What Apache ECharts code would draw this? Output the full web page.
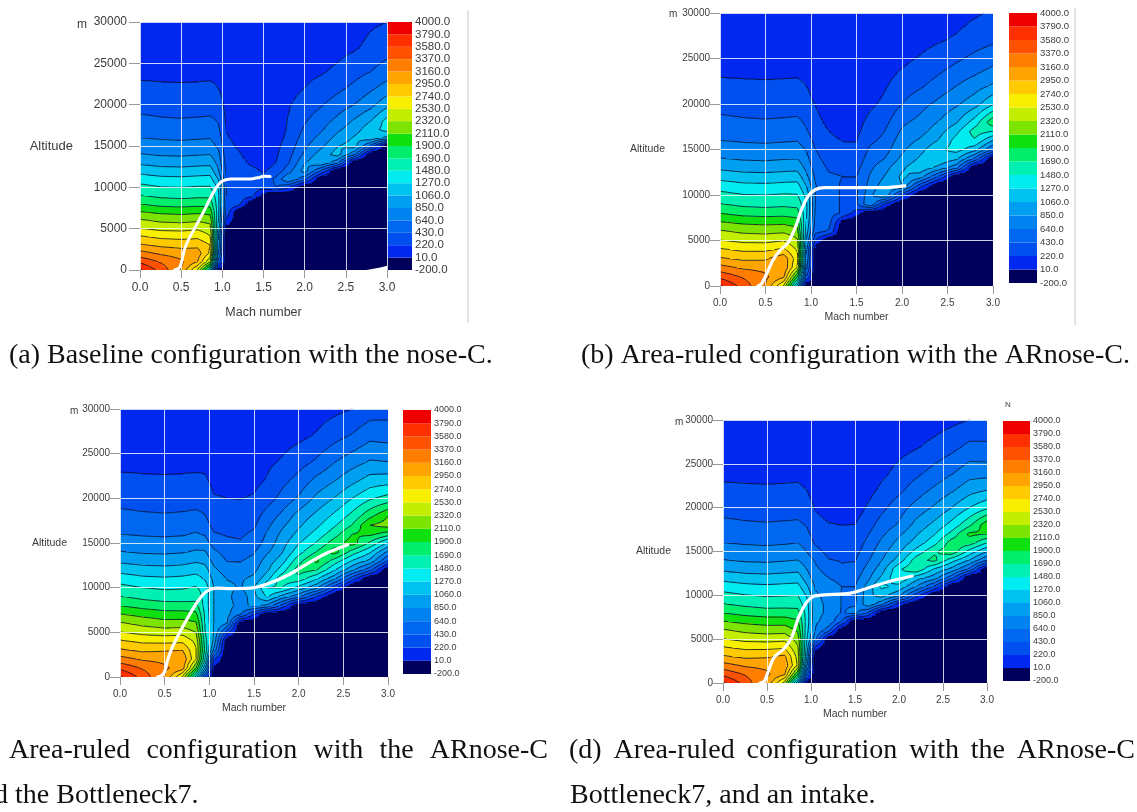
<!DOCTYPE html>
<html><head><meta charset="utf-8">
<style>html,body{margin:0;padding:0;background:#fff;overflow:hidden}#c{width:1137px;height:812px;filter:blur(.45px)}</style>
<script src="https://cdn.jsdelivr.net/npm/echarts@6/dist/echarts.min.js"></script>
</head><body><div id="c"></div>
<script>
const machGrid=[0,.25,.5,.7,.85,.95,1.05,1.2,1.35,1.5,1.65,1.8,2,2.2,2.4,2.6,2.8,3];
const altGrid=[0,1000,2000,3000,4000,5000,6000,7000,8000,9000,10000,11000,12000,13000,14000,15000,16000,17000,18000,20000,22000,24000,27000,30000];
const levels=[-200,10,220,430,640,850,1060,1270,1480,1690,1900,2110,2320,2530,2740,2950,3160,3370,3580,3790,4000];
const bandColors=['#00005c','#0028ee','#0050f0','#0068f0','#0082f0','#009ef0','#00c2f0','#00ecf0','#00f0b4','#00ee6c','#10e010','#7ce400','#c4ee00','#f8ee00','#ffca00','#ffa400','#ff7e00','#ff5200','#ff3000','#ee0000'];
const thrustA=[
[3830,3500,3150,2500,1500,-100,-200,-200,-200,-200,-200,-200,-200,-200,-200,-200,-200,-200],
[3530,3350,3200,2950,2350,600,-200,-200,-200,-200,-200,-200,-200,-200,-200,-200,-200,-200],
[3245,3130,3060,3050,2700,900,-200,-200,-200,-200,-200,-200,-200,-200,-200,-200,-200,-200],
[2980,2910,2880,2900,2750,1000,-200,-200,-200,-200,-200,-200,-200,-200,-200,-200,-200,-200],
[2770,2700,2680,2700,2550,1100,-200,-200,-200,-200,-200,-200,-200,-200,-200,-200,-200,-200],
[2540,2480,2470,2500,2420,1200,-50,-200,-200,-200,-200,-200,-200,-200,-200,-200,-200,-200],
[2350,2280,2260,2290,2250,1300,200,-200,-200,-200,-200,-200,-200,-200,-200,-200,-200,-200],
[2125,2070,2050,2070,2040,1350,350,-200,-200,-200,-200,-200,-200,-200,-200,-200,-200,-200],
[1897,1830,1810,1830,1820,1350,400,300,-200,-200,-200,-200,-200,-200,-200,-200,-200,-200],
[1700,1640,1620,1640,1640,1350,430,340,300,-100,-200,-200,-200,-200,-200,-200,-200,-200],
[1550,1490,1480,1500,1500,1250,430,340,330,300,430,250,-200,-200,-200,-200,-200,-200],
[1380,1330,1320,1340,1350,1050,420,320,310,270,480,850,500,-200,-200,-200,-200,-200],
[1200,1150,1140,1160,1170,880,380,300,270,200,280,540,950,400,-200,-200,-200,-200],
[1015,975,965,985,995,780,340,280,190,140,220,400,830,1060,700,-200,-200,-200],
[860,825,815,835,845,700,310,240,140,110,190,350,680,950,1150,700,-200,-200],
[750,715,705,725,735,600,280,190,110,90,170,300,600,800,1050,1150,600,-200],
[640,620,610,620,630,530,240,160,100,85,150,260,530,700,920,1080,1220,1000],
[560,535,525,535,545,470,210,130,90,80,130,240,460,610,810,970,1180,1350],
[484,460,450,460,470,420,190,110,85,80,120,230,410,550,700,880,1060,1350],
[360,345,335,340,345,340,150,90,80,80,100,200,310,410,530,640,780,1000],
[265,255,250,255,260,220,110,80,80,80,90,150,220,290,380,480,600,730],
[170,165,160,165,170,170,90,80,80,80,80,100,170,200,260,350,430,530],
[100,100,100,100,100,110,80,80,80,80,80,80,100,120,150,190,270,330],
[80,80,80,80,80,80,80,80,80,80,80,80,80,90,100,130,190,220]];
const thrustB=[
[3830,3500,3150,2500,1200,-150,-200,-200,-200,-200,-200,-200,-200,-200,-200,-200,-200,-200],
[3530,3350,3200,2980,1900,400,-200,-200,-200,-200,-200,-200,-200,-200,-200,-200,-200,-200],
[3245,3130,3100,3120,2500,700,-200,-200,-200,-200,-200,-200,-200,-200,-200,-200,-200,-200],
[2980,2910,2920,3100,2600,800,-200,-200,-200,-200,-200,-200,-200,-200,-200,-200,-200,-200],
[2770,2700,2700,2780,2500,900,-200,-200,-200,-200,-200,-200,-200,-200,-200,-200,-200,-200],
[2540,2480,2470,2520,2350,1050,200,-200,-200,-200,-200,-200,-200,-200,-200,-200,-200,-200],
[2350,2280,2260,2280,2200,1150,500,400,-200,-200,-200,-200,-200,-200,-200,-200,-200,-200],
[2125,2070,2050,2060,2000,1250,560,500,-100,-200,-200,-200,-200,-200,-200,-200,-200,-200],
[1897,1830,1810,1820,1790,1300,600,520,400,100,-200,-200,-200,-200,-200,-200,-200,-200],
[1700,1640,1620,1640,1620,1300,620,520,400,400,850,200,-200,-200,-200,-200,-200,-200],
[1550,1490,1480,1500,1490,1200,620,520,400,400,800,1060,300,-200,-200,-200,-200,-200],
[1380,1330,1320,1340,1350,1050,650,520,400,410,720,950,1050,300,-200,-200,-200,-200],
[1200,1150,1140,1160,1170,900,600,460,430,430,660,850,1100,950,400,-200,-200,-200],
[1015,975,965,985,995,790,530,400,380,370,600,760,1030,1200,1000,700,-200,-200],
[860,825,815,835,845,700,480,350,320,300,530,630,900,1090,1250,1100,600,-200],
[750,715,705,725,735,620,430,300,250,240,470,540,810,1000,1220,1350,1150,640],
[640,620,610,620,630,530,370,260,215,215,380,480,740,880,1070,1350,1450,1060],
[560,535,525,535,545,450,320,220,160,180,320,420,670,770,970,1220,1580,1480],
[484,460,450,460,470,400,280,170,130,150,280,360,600,700,860,1040,1370,1850],
[360,345,335,340,345,300,210,110,90,100,180,260,430,570,690,820,970,1250],
[265,255,250,255,260,220,130,85,80,80,120,190,320,400,520,640,760,880],
[170,165,160,165,170,150,90,80,80,80,90,140,215,270,370,470,550,660],
[100,100,100,100,100,100,80,80,80,80,80,100,130,160,200,250,340,390],
[80,80,80,80,80,80,80,80,80,80,80,80,90,100,110,130,190,250]];
const thrustC=[
[3830,3500,3150,2500,1400,400,-200,-200,-200,-200,-200,-200,-200,-200,-200,-200,-200,-200],
[3530,3350,3200,3050,2100,1100,-50,-200,-200,-200,-200,-200,-200,-200,-200,-200,-200,-200],
[3245,3130,3100,3120,2550,1500,250,-200,-200,-200,-200,-200,-200,-200,-200,-200,-200,-200],
[2980,2910,2930,2950,2550,1650,800,-200,-200,-200,-200,-200,-200,-200,-200,-200,-200,-200],
[2770,2700,2690,2700,2480,1600,1000,-200,-200,-200,-200,-200,-200,-200,-200,-200,-200,-200],
[2540,2470,2430,2450,2320,1500,1050,300,-200,-200,-200,-200,-200,-200,-200,-200,-200,-200],
[2350,2260,2200,2210,2140,1480,1060,850,-200,-200,-200,-200,-200,-200,-200,-200,-200,-200],
[2125,2050,1990,1990,1960,1450,1060,900,650,200,-200,-200,-200,-200,-200,-200,-200,-200],
[1897,1820,1780,1770,1760,1400,1060,920,780,900,800,400,-200,-200,-200,-200,-200,-200],
[1700,1630,1580,1590,1610,1400,1060,920,700,1000,1300,1000,700,200,-200,-200,-200,-200],
[1550,1480,1450,1460,1500,1400,1060,900,830,1060,1480,1500,1200,900,300,-200,-200,-200],
[1380,1320,1300,1320,1350,1250,1000,840,820,900,1200,1600,1600,1300,900,300,-200,-200],
[1200,1150,1130,1150,1200,1150,900,740,720,800,1020,1350,1800,1700,1300,900,500,-200],
[1015,975,965,985,1030,1000,780,630,630,710,950,1150,1620,1950,1600,1250,1000,400],
[860,825,815,835,875,870,680,560,540,620,820,1020,1400,1700,2000,1600,1300,800],
[750,715,705,725,765,730,560,480,450,540,720,950,1250,1500,1800,2000,1650,1250],
[640,620,610,620,660,620,450,410,400,470,670,880,1120,1350,1600,1900,1950,1800],
[560,535,525,535,565,520,360,360,340,400,590,790,1020,1220,1450,1700,2110,2200],
[484,460,450,460,480,440,310,310,300,350,520,680,940,1120,1320,1550,1850,2110],
[360,345,335,340,345,340,235,220,215,240,340,480,670,900,1070,1270,1450,1560],
[265,255,250,255,260,250,170,160,150,170,235,360,500,700,840,1000,1150,1180],
[170,165,160,165,170,170,120,120,110,120,185,240,350,470,640,770,880,860],
[100,100,100,100,100,100,90,90,85,90,110,130,170,240,350,450,580,560],
[80,80,80,80,80,80,80,80,80,80,80,90,100,120,170,220,320,340]];
const thrustD=[
[3830,3500,3100,2450,1100,-100,-200,-200,-200,-200,-200,-200,-200,-200,-200,-200,-200,-200],
[3530,3350,3200,2980,1900,500,-200,-200,-200,-200,-200,-200,-200,-200,-200,-200,-200,-200],
[3245,3130,3100,3100,2500,900,-200,-200,-200,-200,-200,-200,-200,-200,-200,-200,-200,-200],
[2980,2910,2930,3000,2450,1100,-200,-200,-200,-200,-200,-200,-200,-200,-200,-200,-200,-200],
[2770,2700,2700,2720,2350,1200,100,-200,-200,-200,-200,-200,-200,-200,-200,-200,-200,-200],
[2540,2470,2450,2470,2230,1300,700,-200,-200,-200,-200,-200,-200,-200,-200,-200,-200,-200],
[2350,2270,2230,2240,2080,1350,850,500,-200,-200,-200,-200,-200,-200,-200,-200,-200,-200],
[2125,2060,2020,2020,1930,1400,870,800,400,-200,-200,-200,-200,-200,-200,-200,-200,-200],
[1897,1830,1790,1790,1770,1400,880,830,620,700,400,-200,-200,-200,-200,-200,-200,-200],
[1700,1640,1600,1610,1610,1350,880,830,630,620,1000,700,100,-200,-200,-200,-200,-200],
[1550,1490,1460,1470,1480,1250,880,800,630,600,1000,1150,900,300,-200,-200,-200,-200],
[1380,1330,1310,1330,1340,1100,830,720,640,640,930,1320,1200,850,400,-200,-200,-200],
[1200,1150,1130,1150,1170,950,750,640,580,570,800,1100,1450,1150,950,500,-200,-200],
[1015,975,965,985,1005,850,680,550,450,480,720,950,1450,1650,1250,1000,600,-200],
[860,825,815,835,855,750,620,440,420,420,620,840,1150,1600,1750,1350,1050,640],
[750,715,705,725,735,640,500,370,350,360,550,760,1020,1350,1650,1850,1400,1060],
[640,620,610,620,640,560,400,310,280,300,490,680,920,1150,1400,1800,1800,1480],
[560,535,525,535,545,480,340,270,240,260,420,590,810,1040,1250,1550,1950,1900],
[484,460,450,460,470,420,290,235,220,225,350,520,670,930,1120,1350,1650,2050],
[360,345,335,340,345,310,205,130,110,120,245,370,550,720,880,1060,1270,1440],
[265,255,250,255,260,220,130,85,80,80,160,260,380,540,680,820,980,1060],
[170,165,160,165,170,150,90,80,80,80,100,170,280,380,500,620,760,760],
[100,100,100,100,100,100,80,80,80,80,80,100,150,200,270,360,480,460],
[80,80,80,80,80,80,80,80,80,80,80,80,90,110,130,170,220,300]];
const flightA=[[.42,0],[.47,200],[.5,800],[.54,2500],[.58,3500],[.65,4800],[.77,7000],[.88,9200],[.95,10300],[1.01,10800],[1.1,11000],[1.33,11000],[1.45,11200],[1.5,11350],[1.58,11300]];
const flightB=[[.42,0],[.46,300],[.52,1500],[.58,2800],[.65,3800],[.75,4800],[.83,6500],[.9,8500],[.97,9900],[1.05,10600],[1.15,10800],[1.5,10800],[1.8,10800],[2.03,11000]];
const flightC=[[.42,0],[.46,100],[.5,600],[.53,1800],[.58,3200],[.68,5200],[.78,7000],[.88,8600],[.97,9600],[1.08,9950],[1.25,9900],[1.5,10000],[1.7,10600],[1.9,11500],[2.1,12700],[2.3,13800],[2.55,14800]];
const flightD=[[.42,0],[.47,200],[.52,1500],[.58,2900],[.7,4000],[.78,5200],[.86,7500],[.95,9200],[1.03,9900],[1.15,10050],[1.45,10250],[1.7,11000],[1.9,11600],[2.15,12200]];
const whiteCornerA=[[2.75,0],[2.92,300],[3,500],[3,0]];
const panels=[
{v:thrustA,f:flightA,g:[140,22,247,248],b:[387,22,25,248],fs:12,bfs:11.5,nfs:12.5,afs:13,tick:11,lab:13,altGap:67,nameGap:36},
{v:thrustB,f:flightB,g:[720,13,273,273],b:[1009,13,28,270],fs:10,bfs:9.5,nfs:10.5,afs:10.5,tick:10,lab:10,altGap:55,nameGap:26},
{v:thrustC,f:flightC,g:[120,409,268,268],b:[403,410,28,264],fs:10,bfs:9,nfs:10.5,afs:10.5,tick:10,lab:10,altGap:53,nameGap:26},
{v:thrustD,f:flightD,g:[723,420,264,263],b:[1003,421,27,260],fs:10,bfs:9,nfs:10.5,afs:10.5,tick:10,lab:10,altGap:52,nameGap:26}];
const FONT='"Liberation Sans",Arial,sans-serif';
function bandOf(v){for(let k=levels.length-2;k>=0;k--)if(v>=levels[k])return k;return 0;}
function fieldRenderer(values){return function(params,api){
  const i=api.value(0),j=api.value(1);
  const p0=api.coord([machGrid[i],altGrid[j]]),p1=api.coord([machGrid[i+1],altGrid[j+1]]);
  const a=values[j][i],b=values[j][i+1],c=values[j+1][i],d=values[j+1][i+1];
  const nx=Math.max(1,Math.ceil((p1[0]-p0[0])/2)),ny=Math.max(1,Math.ceil((p0[1]-p1[1])/2));
  const val=(s,t)=>a*(1-s)*(1-t)+b*s*(1-t)+c*(1-s)*t+d*s*t;
  const X=k=>p0[0]+(p1[0]-p0[0])*k/nx,Y=l=>p0[1]+(p1[1]-p0[1])*l/ny;
  const ch=[];
  for(let l=0;l<ny;l++){
    const y0=Math.round(Y(l+1)),y1=Math.round(Y(l));
    let start=0,cur=bandOf(val(.5/nx,(l+.5)/ny));
    for(let k=1;k<=nx;k++){
      const bnd=k<nx?bandOf(val((k+.5)/nx,(l+.5)/ny)):-1;
      if(bnd!==cur){
        const x0=Math.round(X(start)),x1=Math.round(X(k));
        if(x1>x0&&y1>y0)ch.push({type:'rect',shape:{x:x0,y:y0,width:x1-x0,height:y1-y0},style:{fill:bandColors[cur]}});
        start=k;cur=bnd;
      }
    }
  }
  let path='';
  for(let n=1;n<levels.length-1;n++){
    const L=levels[n];
    if(L<Math.min(a,b,c,d)||L>Math.max(a,b,c,d))continue;
    for(let l=0;l<ny;l++)for(let k=0;k<nx;k++){
      const s0=k/nx,s1=(k+1)/nx,t0=l/ny,t1=(l+1)/ny;
      const q=[[s0,t0],[s1,t0],[s1,t1],[s0,t1]],w=q.map(o=>val(o[0],o[1])),pts=[];
      for(let e=0;e<4;e++){
        const u=w[e],z=w[(e+1)%4];
        if((u<L)!==(z<L)){
          const r=(L-u)/(z-u),o=q[e],m=q[(e+1)%4];
          const ss=o[0]+(m[0]-o[0])*r,tt=o[1]+(m[1]-o[1])*r;
          pts.push([p0[0]+(p1[0]-p0[0])*ss,p0[1]+(p1[1]-p0[1])*tt]);
        }
      }
      for(let e=0;e+1<pts.length;e+=2)path+='M'+pts[e][0].toFixed(1)+' '+pts[e][1].toFixed(1)+'L'+pts[e+1][0].toFixed(1)+' '+pts[e+1][1].toFixed(1);
    }
  }
  if(path)ch.push({type:'path',shape:{pathData:path},style:{fill:'none',stroke:'#060c28',lineWidth:.9,opacity:.9}});
  return {type:'group',children:ch};
};}
function barRenderer(params,api){
  const n=api.value(0),p0=api.coord([0,n]),p1=api.coord([1,n+1]);
  return {type:'rect',shape:{x:p0[0],y:p1[1],width:p1[0]-p0[0],height:p0[1]-p1[1]},style:{fill:bandColors[n]}};
}
const grid=[],xAxis=[],yAxis=[],series=[];
const textColor='#3c3c3c';
panels.forEach((p,n)=>{
  const cells=[];
  for(let j=0;j<altGrid.length-1;j++)for(let i=0;i<machGrid.length-1;i++)cells.push([i,j]);
  grid.push({left:p.g[0],top:p.g[1],width:p.g[2],height:p.g[3]});
  xAxis.push({gridIndex:2*n,type:'value',min:0,max:3,interval:.5,z:3,name:'Mach number',nameLocation:'middle',nameGap:p.nameGap,
    nameTextStyle:{fontFamily:FONT,fontSize:p.nfs,color:textColor},
    axisLine:{show:false},axisTick:{length:8,lineStyle:{color:'#999'}},
    axisLabel:{fontFamily:FONT,fontSize:p.fs,color:textColor,margin:12,formatter:v=>v.toFixed(1)},
    splitLine:{show:true,lineStyle:{color:'rgba(255,255,255,.8)',width:1}}});
  yAxis.push({gridIndex:2*n,type:'value',min:0,max:30000,interval:5000,z:3,name:'Altitude',nameLocation:'middle',nameRotate:0,nameGap:p.altGap,
    nameTextStyle:{fontFamily:FONT,fontSize:p.afs,color:textColor},
    axisLine:{show:false},axisTick:{length:p.tick,lineStyle:{color:'#999'}},
    axisLabel:{fontFamily:FONT,fontSize:p.fs,color:textColor,margin:p.lab,formatter:v=>String(v)},
    splitLine:{show:true,lineStyle:{color:'rgba(255,255,255,.8)',width:1}}});
  grid.push({left:p.b[0],top:p.b[1],width:p.b[2],height:p.b[3]});
  xAxis.push({gridIndex:2*n+1,type:'value',min:0,max:1,show:false});
  yAxis.push({gridIndex:2*n+1,type:'category',position:'right',boundaryGap:false,data:levels.map(v=>v.toFixed(1)),
    axisLine:{show:false},axisTick:{show:false},splitLine:{show:false},
    axisLabel:{interval:0,fontFamily:FONT,fontSize:p.bfs,color:textColor,margin:3}});
  series.push({type:'custom',xAxisIndex:2*n,yAxisIndex:2*n,z:2,silent:true,progressive:0,renderItem:fieldRenderer(p.v),data:cells,encode:{x:[],y:[]}});
  series.push({type:'line',xAxisIndex:2*n,yAxisIndex:2*n,z:6,silent:true,data:p.f,showSymbol:false,smooth:.3,lineStyle:{color:'#fff',width:n==0?3:3.2,cap:'round'}});
  series.push({type:'custom',xAxisIndex:2*n+1,yAxisIndex:2*n+1,z:2,silent:true,renderItem:barRenderer,data:bandColors.map((c,k)=>[k]),encode:{x:[],y:[]}});
});
series.push({type:'custom',xAxisIndex:0,yAxisIndex:0,z:2.5,silent:true,data:[0],encode:{x:[],y:[]},renderItem:(p,api)=>({type:'polygon',shape:{points:whiteCornerA.map(q=>api.coord(q))},style:{fill:'#fff'}})});
const capFont='28px "Liberation Serif","Times New Roman",serif';
const measure=document.createElement('canvas').getContext('2d');measure.font=capFont;
const graphic=[];
function caption(text,x,y,xEnd){
  if(xEnd==null){graphic.push({type:'text',x,y,style:{text,font:capFont,fill:'#111',verticalAlign:'middle'}});return;}
  const words=text.split(' ');const total=words.reduce((s,w)=>s+measure.measureText(w).width,0);
  const gap=(xEnd-x-total)/(words.length-1);let cx=x;
  words.forEach(w=>{graphic.push({type:'text',x:cx,y,style:{text:w,font:capFont,fill:'#111',verticalAlign:'middle'}});cx+=measure.measureText(w).width+gap;});
}
caption('(a) Baseline configuration with the nose-C.',9,356);
caption('(b) Area-ruled configuration with the ARnose-C.',581,356);
caption('Area-ruled configuration with the ARnose-C',9,751,548);
caption('d the Bottleneck7.',-6,796);
caption('(d) Area-ruled configuration with the ARnose-C',569,751,1135);
caption('Bottleneck7, and an intake.',570,796);
[[77,19,12,'m'],[669,9,10,'m'],[70,406,10,'m'],[675,417,10,'m'],[1005,401,8,'N']].forEach(t=>graphic.push({type:'text',x:t[0],y:t[1],style:{text:t[3],fontFamily:FONT,fontSize:t[2],fill:textColor}}));
[[468,10,323],[1075,8,325]].forEach(l=>graphic.push({type:'line',shape:{x1:l[0],y1:l[1],x2:l[0],y2:l[2]},style:{stroke:'#c8c8c8',lineWidth:1}}));
const chart=echarts.init(document.getElementById('c'),null,{renderer:'canvas'});
chart.setOption({animation:false,backgroundColor:'#fff',tooltip:{show:false},grid,xAxis,yAxis,series,graphic});
</script></body></html>
